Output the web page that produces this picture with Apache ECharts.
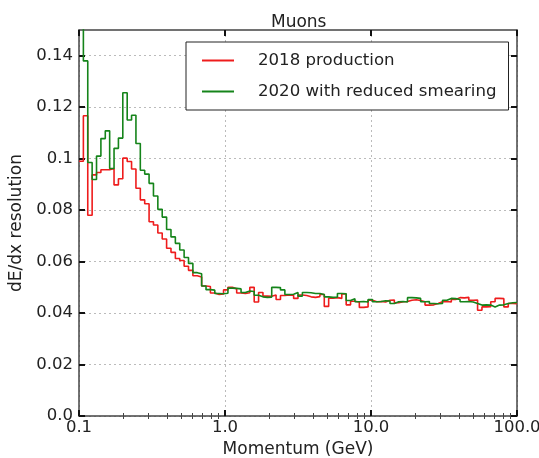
<!DOCTYPE html>
<html>
<head>
<meta charset="utf-8">
<script src="https://cdn.jsdelivr.net/npm/echarts@6/dist/echarts.min.js"></script>
<style>
html,body{margin:0;padding:0;background:#fff;}
#chart{width:539px;height:458px;}
</style>
</head>
<body>
<div id="chart"></div>
<script>
// Histogram binning: 100 log-spaced bins from 0.1 to 100 GeV
const logMin = -1, logMax = 2, nBins = 100;
const binEdges = [];
for (let i = 0; i <= nBins; i++) binEdges.push(Math.pow(10, logMin + (logMax - logMin) * i / nBins));

const seriesNames = ['2018 production', '2020 with reduced smearing'];

const res2018 = [
0.099,0.1167,0.078,0.0937,0.0946,0.0957,0.0957,0.0962,0.0898,0.0922,
0.1002,0.0989,0.0960,0.0885,0.0840,0.0825,0.0755,0.0742,0.0711,0.0688,
0.0652,0.0636,0.0612,0.0604,0.0582,0.0566,0.0545,0.0540,0.0505,0.0503,
0.0478,0.0472,0.0474,0.0490,0.0500,0.0494,0.0478,0.0476,0.0479,0.0500,
0.0443,0.0480,0.0466,0.0465,0.0470,0.0453,0.0468,0.0470,0.0469,0.0457,
0.0470,0.0468,0.0463,0.0461,0.0464,0.0472,0.0426,0.0458,0.0460,0.0457,
0.0474,0.0432,0.0446,0.0443,0.0422,0.0424,0.0450,0.0444,0.0445,0.0443,
0.0450,0.0451,0.0440,0.0444,0.0445,0.0450,0.0452,0.0449,0.0444,0.0431,
0.0432,0.0437,0.0444,0.0445,0.0443,0.0453,0.0460,0.0459,0.0461,0.0450,
0.0451,0.0411,0.0424,0.0425,0.0444,0.0457,0.0456,0.0424,0.0437,0.0436
];

const res2020 = [
0.165,0.138,0.0985,0.0919,0.101,0.1078,0.1108,0.0962,0.104,0.108,
0.1256,0.115,0.1169,0.1059,0.0955,0.094,0.0904,0.0855,0.0803,0.0773,
0.0725,0.0696,0.0671,0.0645,0.0616,0.0593,0.0557,0.0553,0.0505,0.0491,
0.0489,0.0476,0.0475,0.0477,0.0497,0.0496,0.0494,0.0480,0.0486,0.0484,
0.0469,0.0463,0.0461,0.0462,0.0500,0.0499,0.0490,0.0472,0.0473,0.0480,
0.0466,0.0480,0.0479,0.0476,0.0476,0.0472,0.0463,0.0461,0.0462,0.0476,
0.0475,0.0449,0.0456,0.0444,0.0445,0.0443,0.0453,0.0444,0.0445,0.0448,
0.0447,0.0437,0.0444,0.0445,0.0443,0.0460,0.0459,0.0457,0.0444,0.0445,
0.0437,0.0436,0.0437,0.0450,0.0457,0.0456,0.0453,0.0444,0.0445,0.0443,
0.0437,0.0431,0.0432,0.0431,0.0424,0.0431,0.0432,0.0437,0.0440,0.0441
];

const xMajorTicks = [0.1, 1, 10, 100];
const xMinorTicks = [0.2,0.3,0.4,0.5,0.6,0.7,0.8,0.9,2,3,4,5,6,7,8,9,20,30,40,50,60,70,80,90];
const yTicks = [0, 0.02, 0.04, 0.06, 0.08, 0.1, 0.12, 0.14];

function stepData(vals) {
  const d = vals.map((v, i) => [binEdges[i], v]);
  d.push([binEdges[nBins], vals[vals.length - 1]]);
  return d;
}

const FONT = 'DejaVu Sans';
const chart = echarts.init(document.getElementById('chart'), null, {renderer: 'canvas'});

const baseX = {
  type: 'log', logBase: 10, min: 0.1, max: 100, gridIndex: 0
};
const option = {
  animation: false,
  backgroundColor: '#fff',
  title: {
    text: 'Muons', left: 266, top: 9,
    textStyle: {fontFamily: FONT, fontSize: 17, fontWeight: 'normal', color: '#222'}
  },
  legend: {
    left: 186, top: 42, orient: 'vertical',
    data: seriesNames,
    itemWidth: 32, itemHeight: 14, itemGap: 14,
    padding: [10, 12, 10, 15],
    borderColor: '#222', borderWidth: 1, backgroundColor: '#fff',
    itemStyle: {opacity: 0},
    textStyle: {fontFamily: FONT, fontSize: 16.6, color: '#222', padding: [0, 0, 0, 19]}
  },
  grid: {left: 79, right: 22, top: 30, bottom: 42, show: false, outerBoundsMode: 'none', containLabel: false},
  xAxis: [
    Object.assign({}, baseX, {
      position: 'bottom',
      name: 'Momentum (GeV)', nameLocation: 'middle', nameGap: 12,
      nameTextStyle: {fontFamily: FONT, fontSize: 17, color: '#222'},
      axisLine: {show: true, onZero: false, lineStyle: {color: '#444', width: 1.5}},
      axisTick: {show: true, inside: true, length: 6, lineStyle: {color: '#111', width: 2}, customValues: xMajorTicks},
      axisLabel: {show: true, margin: 3, fontFamily: FONT, fontSize: 16.5, color: '#222',
        customValues: xMajorTicks, formatter: v => Number(v).toFixed(1)},
      splitLine: {show: true, lineStyle: {color: '#bbb', type: [2, 3], width: 1}},
      minorTick: {show: false}
    }),
    Object.assign({}, baseX, {
      position: 'top',
      axisLine: {show: true, onZero: false, lineStyle: {color: '#444', width: 1.5}},
      axisTick: {show: true, inside: true, length: 6, lineStyle: {color: '#111', width: 2}, customValues: xMajorTicks},
      axisLabel: {show: false},
      splitLine: {show: false}
    }),
    Object.assign({}, baseX, {
      position: 'bottom',
      axisLine: {show: false},
      axisTick: {show: true, inside: true, length: 3, lineStyle: {color: '#444', width: 1}, customValues: xMinorTicks},
      axisLabel: {show: false},
      splitLine: {show: false}
    }),
    Object.assign({}, baseX, {
      position: 'top',
      axisLine: {show: false},
      axisTick: {show: true, inside: true, length: 3, lineStyle: {color: '#444', width: 1}, customValues: xMinorTicks},
      axisLabel: {show: false},
      splitLine: {show: false}
    })
  ],
  yAxis: [
    {
      type: 'value', min: 0, max: 0.15, interval: 0.02, position: 'left',
      name: 'dE/dx resolution', nameLocation: 'middle', nameGap: 42, nameRotate: 90,
      nameTextStyle: {fontFamily: FONT, fontSize: 17, color: '#222'},
      axisLine: {show: true, onZero: false, lineStyle: {color: '#444', width: 1.5}},
      axisTick: {show: true, inside: true, length: 6, lineStyle: {color: '#111', width: 2}, customValues: yTicks},
      axisLabel: {show: true, margin: 6, fontFamily: FONT, fontSize: 16.5, color: '#222',
        customValues: yTicks, formatter: v => (v === 0 ? '0.0' : String(Math.round(v * 100) / 100))},
      splitLine: {show: true, lineStyle: {color: '#bbb', type: [2, 3], width: 1}}
    },
    {
      type: 'value', min: 0, max: 0.15, interval: 0.02, position: 'right',
      axisLine: {show: true, onZero: false, lineStyle: {color: '#444', width: 1.5}},
      axisTick: {show: true, inside: true, length: 6, lineStyle: {color: '#111', width: 2}, customValues: yTicks},
      axisLabel: {show: false},
      splitLine: {show: false}
    }
  ],
  series: [
    {
      name: seriesNames[0], type: 'line', step: 'end', xAxisIndex: 0, yAxisIndex: 0,
      data: stepData(res2018), symbol: 'none', clip: true,
      lineStyle: {color: '#ee1c1c', width: 1.6}, itemStyle: {color: '#ee1c1c'}, z: 3
    },
    {
      name: seriesNames[1], type: 'line', step: 'end', xAxisIndex: 0, yAxisIndex: 0,
      data: stepData(res2020), symbol: 'none', clip: true,
      lineStyle: {color: '#15841a', width: 1.6}, itemStyle: {color: '#15841a'}, z: 4
    }
  ]
};
chart.setOption(option);
</script>
</body>
</html>
